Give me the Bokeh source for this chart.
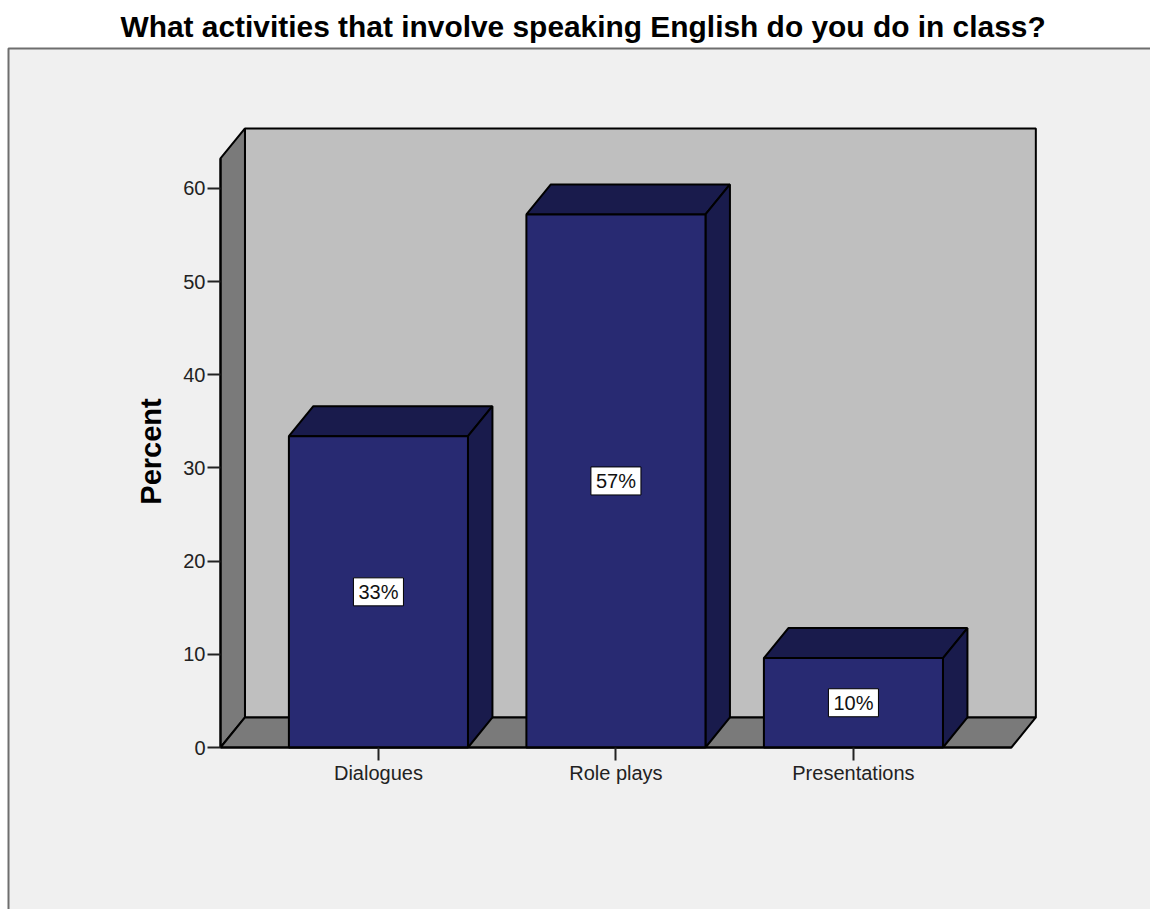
import math
from bokeh.plotting import figure
from bokeh.core.properties import value
from bokeh.models import (BoxAnnotation, ColumnDataSource, FixedTicker, Label, Range1d)
from bokeh.embed import file_html
from bokeh.resources import INLINE

categories = ["Dialogues", "Role plays", "Presentations"]
percents = [33.4, 57.2, 9.6]
bar_labels = ["33%", "57%", "10%"]
y_ticks = [0, 10, 20, 30, 40, 50, 60]
title_text = "What activities that involve speaking English do you do in class?"
y_title = "Percent"

FONT = "Liberation Sans"
PANEL = "#f0f0f0"
FRONT, DARK = "#282a72", "#191b4c"
WALL, SIDE = "#bfbfbf", "#7a7a7a"
W, H = 1150, 909

# 3D extrusion, in axis units
half = 0.377
dx, dy = 0.103, 3.22
x0, x1 = -0.665, 2.665
y_top = 63.2

# scales: the frame fills the page, axes are pinned inside it
PX_X, PX_Y = 237.5, 9.32
ORIGIN_X, ORIGIN_Y = 220, 747
x_start = x0 - ORIGIN_X / PX_X
y_start = -(H - ORIGIN_Y) / PX_Y

p = figure(width=W, height=H, output_backend="svg", toolbar_location=None,
           x_range=Range1d(x_start, x_start + W / PX_X),
           y_range=Range1d(y_start, y_start + H / PX_Y),
           min_border=0, border_fill_color="white", background_fill_color="white",
           outline_line_color=None)
p.grid.visible = False

p.add_layout(BoxAnnotation(left=8, right=W + 20, top=H - 48, bottom=-20,
                           left_units="screen", right_units="screen",
                           top_units="screen", bottom_units="screen",
                           fill_color=PANEL, fill_alpha=1,
                           line_color="#6e6e6e", line_alpha=1, line_width=2,
                           level="underlay"))

p.add_layout(Label(x=120, y=H - 26, x_units="screen", y_units="screen", text=title_text,
                   text_font=FONT, text_font_size="29.9px", text_font_style="bold",
                   text_color="#000000", text_align="left", text_baseline="middle"))
p.add_layout(Label(x=150, y=H - 451, x_units="screen", y_units="screen", text=y_title,
                   angle=math.pi / 2, text_font=FONT, text_font_size="29px", text_font_style="bold",
                   text_color="#000000", text_align="center", text_baseline="middle"))

# walls and floor
lw = 2
p.patch([x0 + dx, x1 + dx, x1 + dx, x0 + dx], [dy, dy, y_top + dy, y_top + dy],
        fill_color=WALL, line_color="black", line_width=lw)
p.patch([x0, x0 + dx, x0 + dx, x0], [0, dy, y_top + dy, y_top],
        fill_color=SIDE, line_color="black", line_width=lw)
p.patch([x0, x1, x1 + dx, x0 + dx], [0, 0, dy, dy],
        fill_color=SIDE, line_color="black", line_width=lw)

# bars
xs = list(range(len(categories)))
for x, v in zip(xs, percents):
    l, r = x - half, x + half
    p.patch([l, r, r + dx, l + dx], [v, v, v + dy, v + dy],
            fill_color=DARK, line_color="black", line_width=lw)
    p.patch([r, r + dx, r + dx, r], [0, dy, v + dy, v],
            fill_color=DARK, line_color="black", line_width=lw)
    p.patch([l, r, r, l], [0, 0, v, v],
            fill_color=FRONT, line_color="black", line_width=lw)

src = ColumnDataSource(dict(x=xs, y=[v / 2 for v in percents], t=bar_labels))
p.text(x="x", y="y", text="t", source=src, text_align="center",
       text_baseline="middle", text_font=value(FONT), text_font_size="20px",
       text_color="#111111", background_fill_color="white",
       border_line_color="black", border_line_width=1, padding=(5, 3))

ax = p.xaxis[0]
ax.fixed_location = 0
ax.ticker = FixedTicker(ticks=xs)
ax.major_label_overrides = {i: c for i, c in zip(xs, categories)}
ax.bounds = (x0, x1)
ax.major_tick_in = 0
ax.major_tick_out = 13
ax.minor_tick_line_color = None
ax.axis_line_color = "black"
ax.axis_line_width = lw
ax.major_tick_line_color = "#222222"
ax.major_tick_line_width = 2
ax.major_label_text_font = FONT
ax.major_label_text_font_size = "20px"
ax.major_label_text_color = "#222222"
ax.major_label_standoff = 1

ay = p.yaxis[0]
ay.fixed_location = x0
ay.ticker = FixedTicker(ticks=y_ticks)
ay.bounds = (0, y_top)
ay.major_tick_in = 0
ay.major_tick_out = 13
ay.minor_tick_line_color = None
ay.axis_line_color = "black"
ay.axis_line_width = lw
ay.major_tick_line_color = "#222222"
ay.major_tick_line_width = 2
ay.major_label_text_font = FONT
ay.major_label_text_font_size = "20px"
ay.major_label_text_color = "#222222"
ay.major_label_standoff = 2

open("out.html", "w").write(file_html(p, INLINE))
